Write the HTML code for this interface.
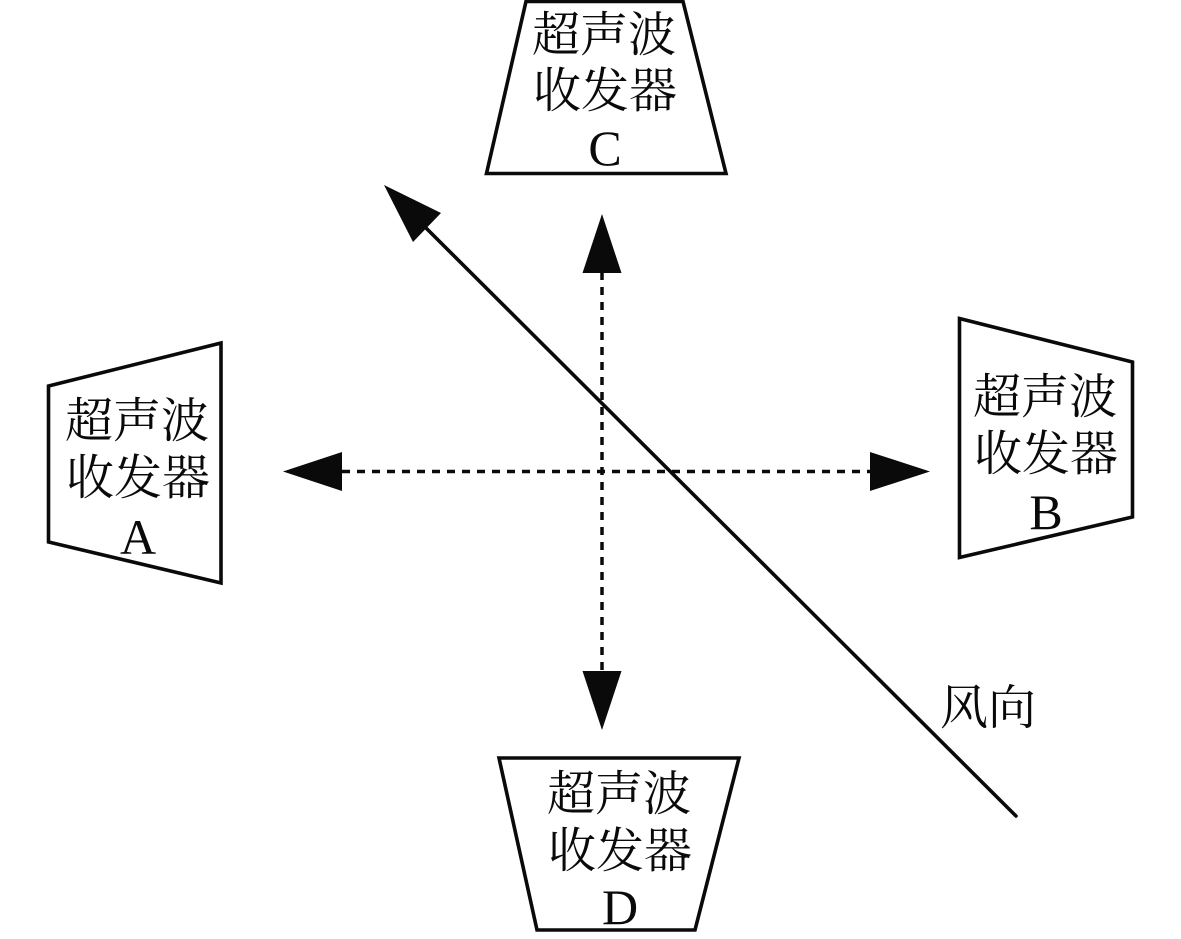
<!DOCTYPE html>
<html>
<head>
<meta charset="utf-8">
<style>
html,body{margin:0;padding:0;background:#fff;width:1181px;height:939px;overflow:hidden}
svg{display:block}
.c{font-family:"Liberation Serif","Noto Serif CJK SC",serif;font-size:48px;fill:#0a0a0a;letter-spacing:0}
.l{font-family:"Liberation Serif",serif;font-size:50px;fill:#0a0a0a;text-anchor:middle}
</style>
</head>
<body>
<svg width="1181" height="939" viewBox="0 0 1181 939" xmlns="http://www.w3.org/2000/svg">
<g fill="none" stroke="#0a0a0a" stroke-width="3.6" stroke-linejoin="miter">
<polygon points="526,1.5 683,1.5 726,173.5 486.500,173.500"/>
<polygon points="221,343 48.500,386 48.500,542 221,583"/>
<polygon points="959.500,318.500 1132.500,362 1132.500,517 959.500,557.500"/>
<polygon points="499,758 739,758 695,930 537,930"/>
</g>
<g stroke="#0a0a0a" stroke-width="3.5" stroke-dasharray="8 7" fill="none">
<line x1="602" y1="272" x2="602" y2="672"/>
<line x1="342" y1="471.500" x2="872" y2="471.500"/>
</g>
<g fill="#0a0a0a">
<polygon points="602,214 582.500,273 621.500,273"/>
<polygon points="602,730 582.500,671 621.500,671"/>
<polygon points="283,471.500 342,452 342,491"/>
<polygon points="930,471.500 870,452 870,491"/>
<polygon points="384,185 441,213 413,242"/>
</g>
<line x1="420" y1="222" x2="1016" y2="816" stroke="#0a0a0a" stroke-width="3.6" stroke-linecap="round"/>

<text class="c" x="532" y="51">超声波</text>
<text class="c" x="533" y="107">收发器</text>
<text class="l" x="605" y="165">C</text>

<text class="c" x="65" y="437">超声波</text>
<text class="c" x="66" y="494">收发器</text>
<text class="l" x="138" y="554">A</text>

<text class="c" x="973" y="413">超声波</text>
<text class="c" x="974" y="470">收发器</text>
<text class="l" x="1046" y="529">B</text>

<text class="c" x="547" y="810">超声波</text>
<text class="c" x="548" y="867">收发器</text>
<text class="l" x="620" y="924">D</text>

<text class="c" x="940" y="724">风向</text>
</svg>
</body>
</html>
